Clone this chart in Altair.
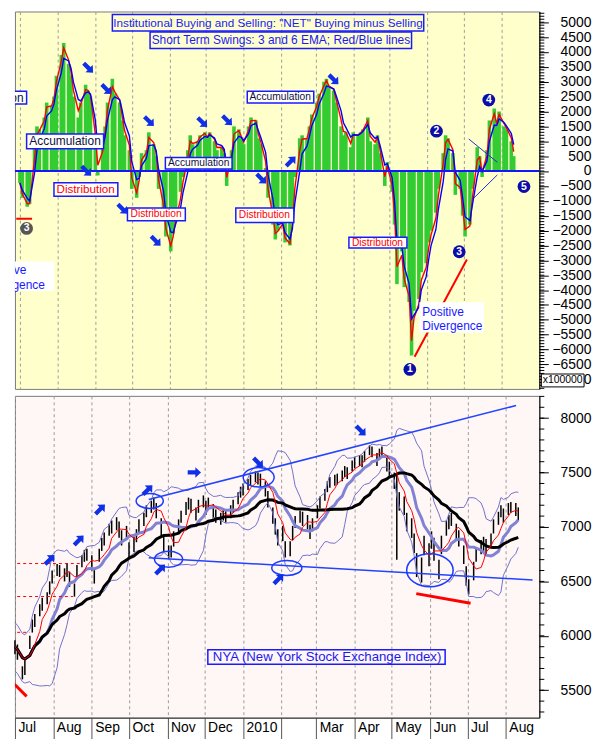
import json
import altair as alt
import pandas as pd

# ---------------- values (one sample every 2nd trading day from 2009-07-01) ----
net = [-400, -900, -1200, -1100, 900, 1500, 1400, 1800, 2300, 2200,
       2500, 3200, 3900, 4300, 3600, 3200, 2500, 1800, 2300, 2900,
       2700, 2500, 800, -150, 800, 1500, 2300, 3100, 2600, 2300,
       1700, 1200, 700, -600, -900, -200, 600, 700, 1300, 900,
       500, -600, -1400, -2200, -2700, -2100, -1500, -700, -200, 700,
       1200, 900, 1000, 1200, 1300, 1100, 1300, 1000, 700, 800,
       600, -500, 700, 1500, 1400, 1100, 900, 1500, 1800, 1700,
       1100, 900, 100, -900, -1800, -2300, -2000, -1700, -2400, -2500,
       -1600, -200, 1100, 1200, 1100, 1500, 1900, 2300, 2600, 3000,
       3100, 2800, 2700, 2300, 1500, 1200, 1300, 800, 1300, 1200,
       1300, 1400, 1800, 1000, 900, 1200, 600, -500, 300, -700,
       -1800, -3800, -2700, -3900, -4400, -6200, -4700, -4300, -3400, -3100,
       -2400, -2000, -1400, -600, 600, 1200, 1100, 600, -800, -600,
       -1500, -2200, -1800, -600, 800, 500, -200, 700, 1700, 2100,
       1500, 2000, 1500, 1400, 1000, 500]

close = [5900, 5850, 5650, 5750, 5950, 6100, 6150, 6250, 6300, 6350,
         6450, 6560, 6620, 6600, 6560, 6620, 6520, 6420, 6600, 6700,
         6740, 6760, 6680, 6550, 6750, 6850, 6900, 6980, 7000, 7040,
         6980, 6900, 6960, 6780, 6850, 6930, 7020, 7080, 7150, 7200,
         7230, 7150, 7000, 6850, 6760, 6770, 6900, 7020, 7100, 7180,
         7230, 7200, 7120, 7200, 7250, 7180, 7230, 7150, 7100, 7080,
         7120, 7100, 7150, 7200, 7280, 7330, 7350, 7400, 7440, 7480,
         7450, 7440, 7350, 7250, 7100, 7000, 6900, 6950, 6780, 6800,
         6950, 7050, 7100, 7080, 7050, 6950, 7030, 7150, 7230, 7300,
         7380, 7420, 7440, 7450, 7480, 7520, 7500, 7570, 7600, 7620,
         7610, 7660, 7720, 7700, 7620, 7680, 7700, 7580, 7530, 7420,
         7250, 7250, 7200, 7050, 7000, 6850, 6650, 6600, 6850, 6750,
         6900, 6800, 6600, 6850, 7000, 7050, 7080, 6950, 6900, 6750,
         6550, 6420, 6600, 6750, 6820, 6850, 6820, 6880, 7000, 7080,
         7150, 7100, 7170, 7180, 7160, 7120]

high = [5960, 5920, 5720, 5800, 6000, 6150, 6200, 6290, 6350, 6400,
        6500, 6600, 6660, 6650, 6620, 6670, 6590, 6480, 6650, 6740,
        6790, 6800, 6740, 6620, 6800, 6900, 6950, 7030, 7060, 7090,
        7050, 6970, 7010, 6860, 6910, 6980, 7070, 7130, 7200, 7240,
        7270, 7220, 7080, 6930, 6830, 6830, 6960, 7070, 7150, 7230,
        7270, 7260, 7180, 7250, 7290, 7240, 7270, 7210, 7160, 7130,
        7170, 7160, 7200, 7250, 7320, 7370, 7400, 7440, 7480, 7510,
        7500, 7490, 7420, 7330, 7180, 7080, 6980, 7010, 6870, 6870,
        7010, 7100, 7150, 7140, 7110, 7020, 7080, 7200, 7280, 7350,
        7420, 7460, 7480, 7490, 7520, 7560, 7550, 7610, 7640, 7660,
        7660, 7700, 7750, 7740, 7680, 7720, 7740, 7650, 7600, 7500,
        7480, 7320, 7280, 7130, 7080, 6940, 6760, 6720, 6920, 6850,
        6960, 6900, 6700, 6920, 7060, 7110, 7130, 7030, 6970, 6830,
        6640, 6520, 6680, 6810, 6880, 6910, 6890, 6940, 7070, 7140,
        7200, 7170, 7220, 7230, 7220, 7180]

low = [5830, 5780, 5600, 5640, 5880, 6030, 6080, 6180, 6230, 6290,
       6380, 6480, 6550, 6540, 6500, 6540, 6450, 6360, 6520, 6630,
       6680, 6690, 6600, 6480, 6680, 6780, 6830, 6920, 6940, 6970,
       6900, 6830, 6880, 6710, 6770, 6860, 6950, 7010, 7090, 7130,
       7160, 7080, 6920, 6780, 6710, 6720, 6820, 6950, 7040, 7110,
       7160, 7130, 7060, 7130, 7180, 7110, 7160, 7080, 7040, 7020,
       7060, 7040, 7080, 7130, 7210, 7270, 7290, 7340, 7380, 7410,
       7390, 7370, 7280, 7180, 7030, 6930, 6830, 6870, 6720, 6730,
       6880, 6990, 7040, 7010, 6980, 6890, 6960, 7080, 7170, 7240,
       7320, 7360, 7380, 7390, 7420, 7460, 7440, 7510, 7540, 7560,
       7550, 7600, 7660, 7640, 7560, 7620, 7640, 7510, 7470, 7350,
       6700, 7150, 7110, 6960, 6900, 6760, 6540, 6490, 6740, 6640,
       6800, 6690, 6520, 6750, 6920, 6980, 7010, 6880, 6820, 6660,
       6460, 6380, 6510, 6680, 6750, 6780, 6750, 6810, 6940, 7020,
       7090, 7040, 7110, 7130, 7100, 7060]

# ---------------- annotations (dates / values) ----------------
BLUE = "#1a1aff"
RED = "#ff0000"
DARK = "#101040"
NAVY = "#0c0ca8"

top_boxes = [  # x, x2, y, y2, fill, stroke
    ("2009-09-15T00:00:00", "2010-05-29T00:00:00", 5262, 4706, "transparent", BLUE),
    ("2009-10-16T00:00:00", "2010-05-19T00:00:00", 4673, 4118, "transparent", BLUE),
    ("2009-07-06T12:00:00", "2009-09-07T19:00:00", 1242, 752, "white", BLUE),
    ("2009-06-01T00:00:00", "2009-07-06T12:00:00", 2680, 2255, "white", BLUE),
    ("2009-07-29T00:00:00", "2009-09-19T12:00:00", -392, -850, "white", BLUE),
    ("2009-10-28T14:00:00", "2009-12-22T10:00:00", 458, 65, "white", BLUE),
    ("2009-09-27T10:00:00", "2009-11-14T00:00:00", -1242, -1667, "white", BLUE),
    ("2010-01-03T22:00:00", "2010-02-27T14:00:00", 2680, 2288, "white", BLUE),
    ("2009-12-25T12:00:00", "2010-02-11T05:00:00", -1242, -1732, "white", BLUE),
    ("2010-03-28T12:00:00", "2010-05-15T05:00:00", -2222, -2582, "white", BLUE),
    ("2010-05-25T10:00:00", "2010-07-17T14:00:00", -4412, -5425, "white", "transparent"),
    ("2009-06-01T00:00:00", "2009-07-29T00:00:00", -3039, -4020, "white", "transparent"),
]
top_text_center = [  # x, y, text, color, size
    ("2010-01-21T00:00:00", 4984, 'Institutional Buying and Selling: "NET" Buying minus Selling', BLUE, 11.8),
    ("2010-01-31T14:00:00", 4395, "Short Term Swings: 3 and 6 EMA; Red/Blue lines", BLUE, 12),
    ("2009-08-07T02:00:00", 997, "Accumulation", DARK, 12),
    ("2009-08-24T00:00:00", -621, "Distribution", RED, 11.7),
    ("2009-11-25T00:00:00", 261, "Accumulation", DARK, 10.3),
    ("2009-10-21T00:00:00", -1454, "Distribution", RED, 10.3),
    ("2010-01-31T00:00:00", 2484, "Accumulation", DARK, 10.3),
    ("2010-01-18T00:00:00", -1487, "Distribution", RED, 10.3),
    ("2010-04-21T00:00:00", -2402, "Distribution", RED, 10.3),
]
top_text_left = [
    ("2010-05-27T17:00:00", -4739, "Positive", BLUE, 12),
    ("2010-05-27T17:00:00", -5196, "Divergence", BLUE, 12),
    ("2009-06-02T00:00:00", -3333, "Positive", BLUE, 12),
    ("2009-06-02T00:00:00", -3846, "Divergence", BLUE, 12),
]
top_text_right = [
    ("2009-07-04T00:00:00", 2467, "Accumulation", DARK, 12),
]
top_segments = [  # x, x2, y, y2, color, width
    ("2009-06-28T00:00:00", "2009-07-11T00:00:00", -1601, -1601, RED, 2),
    ("2010-05-21T12:00:00", "2010-07-03T12:00:00", -6242, -2974, RED, 2),
    ("2010-07-05T00:00:00", "2010-07-28T12:00:00", 1078, 294, "#2a2ad0", 1),
    ("2010-07-09T00:00:00", "2010-07-28T12:00:00", -915, -131, "#2a2ad0", 1),
]
top_arrows = [  # x, y, angle
    ("2009-08-26T07:00:00", 3464, 45), ("2009-09-10T05:00:00", 2745, 45),
    ("2009-10-15T07:00:00", 1667, 45), ("2009-11-28T02:00:00", 1634, 45),
    ("2009-12-18T12:00:00", 1699, 45), ("2009-08-24T17:00:00", 0, 45),
    ("2009-09-23T10:00:00", -1275, 45), ("2009-10-20T19:00:00", -2353, 45),
    ("2010-01-15T14:00:00", -261, 45), ("2010-02-08T19:00:00", 327, 315),
    ("2010-03-16T00:00:00", 3072, 45),
]
top_numbers = [  # x, y, label, fill
    ("2010-05-17T14:00:00", -6667, "1", NAVY), ("2010-06-08T12:00:00", 1340, "2", NAVY),
    ("2010-06-27T05:00:00", -2712, "3", NAVY), ("2010-07-21T12:00:00", 2386, "4", NAVY),
    ("2010-08-19T10:00:00", -523, "5", NAVY), ("2009-07-06T12:00:00", -1928, "3", "#555555"),
]

bot_segments = [
    ("2009-10-16T22:00:00", "2010-08-09T05:00:00", 7252, 8116, "#2244ff", 1.5),
    ("2009-10-16T22:00:00", "2010-08-22T12:00:00", 6718, 6513, "#2244ff", 1.5),
    ("2010-05-20T17:00:00", "2010-07-03T12:00:00", 6388, 6299, RED, 3),
    ("2009-06-28T00:00:00", "2009-07-10T10:00:00", 5585, 5444, RED, 3),
]
bot_dashed = [
    ("2009-06-28T00:00:00", "2009-08-24T17:00:00", 6664),
    ("2009-06-28T00:00:00", "2009-08-16T22:00:00", 6361),
    ("2009-06-28T00:00:00", "2009-07-12T17:00:00", 6032),
]
bot_ellipses = [  # x, y, aspect, width in px
    ("2009-10-17T17:00:00", 7239, 0.55, 27.3),
    ("2009-11-01T22:00:00", 6704, 0.57, 28.3),
    ("2010-01-13T14:00:00", 7457, 0.63, 31.2),
    ("2010-02-05T07:00:00", 6624, 0.50, 30.3),
    ("2010-05-31T17:00:00", 6602, 0.71, 46.8),
]
bot_arrows = [
    ("2009-07-29T02:00:00", 6700, 315), ("2009-08-21T14:00:00", 6878, 315),
    ("2009-09-07T19:00:00", 7163, 315), ("2009-10-16T02:00:00", 7341, 315),
    ("2009-11-22T17:00:00", 7501, 0), ("2010-01-13T07:00:00", 7590, 45),
    ("2009-10-26T07:00:00", 6611, 315), ("2010-01-29T17:00:00", 6522, 315),
    ("2010-04-06T02:00:00", 7884, 45),
]
nya_box = ("2009-12-03T14:00:00", "2010-06-13T00:00:00", 5871, 5738)
nya_text = ("2010-03-09T19:00:00", 5804, "NYA (New York Stock Exchange Index)")

# ---------------- layout / style ----------------
FONT = "Liberation Sans"
W, H_TOP, H_BOT = 528, 380, 324
MONTH = {"interval": "month", "step": 1}
ARROW = "M-1,-0.32L0.15,-0.32L0.15,-0.78L1,0L0.15,0.78L0.15,0.32L-1,0.32Z"


def ellipse_path(a):
    k = 0.5523
    return (f"M1,0C1,{k*a:.3f} {k:.3f},{a:.3f} 0,{a:.3f}C{-k:.3f},{a:.3f} -1,{k*a:.3f} -1,0"
            f"C-1,{-k*a:.3f} {-k:.3f},{-a:.3f} 0,{-a:.3f}C{k:.3f},{-a:.3f} 1,{-k*a:.3f} 1,0Z")


def inline(records, datefields=("x",)):
    return alt.InlineData(values=records, format={"parse": {f: "date" for f in datefields}})


# main table
dates = pd.bdate_range("2009-07-01", periods=2 * len(net), freq="B")[::2]
df = pd.DataFrame({
    "x": [d.strftime("%Y-%m-%dT00:00:00") for d in dates],
    "net": net, "close": close, "hi": high, "lo": low,
})
s = pd.Series(net, dtype=float)
df["ema3"] = s.ewm(alpha=0.75, adjust=False).mean()   # 3-day EMA on 2-day samples
df["ema6"] = s.ewm(alpha=0.49, adjust=False).mean()   # 6-day EMA on 2-day samples
c = pd.Series(close, dtype=float)
df["ma10"] = c.rolling(5, min_periods=1).mean()
df["ma20"] = c.rolling(10, min_periods=1).mean()
df["ma50"] = c.rolling(25, min_periods=1).mean()
sd = c.rolling(10, min_periods=4).std().bfill()
df["bbu"] = df["ma20"] + 2 * sd
df["bbl"] = df["ma20"] - 2 * sd
main = inline(json.loads(df.to_json(orient="records")))

xs = alt.Scale(domain=[alt.DateTime(year=2009, month=7, date=1),
                       alt.DateTime(year=2010, month=8, date=28)])
ax_top = alt.Axis(tickCount=MONTH, grid=True, gridDash=[3, 3], gridColor="#9c9c9c",
                  labels=False, ticks=False, domain=False, title=None)
ax_bot = alt.Axis(tickCount=MONTH, grid=True, gridDash=[3, 3], gridColor="#9c9c9c",
                  labelExpr="month(datum.value) == 0 ? '2010' : (month(datum.value) == 1 ? '' : timeFormat(datum.value, '%b'))",
                  labelAlign="left", labelOffset=3, labelPadding=-18, labelBaseline="top",
                  tickSize=21, tickColor="#555555", domainColor="#333333",
                  labelFont=FONT, labelFontSize=14, labelColor="black",
                  labelFlush=False, labelOverlap=False, title=None)

ys_top = alt.Scale(domain=[-7320, 5360], nice=False, zero=False)
ys_bot = alt.Scale(domain=[5248, 8205], nice=False, zero=False)


def yaxis(vals):
    return alt.Axis(orient="right", values=vals, format="d", labelAlign="right", labelPadding=43,
                    tickSize=9, tickColor="black", domainColor="black", labelFont=FONT,
                    labelFontSize=14, labelColor="black", labelBaseline="middle",
                    labelOverlap=False, grid=False, title=None)


ay_top = yaxis(list(range(-7000, 5001, 500)))
ay_bot = yaxis(list(range(5500, 8001, 500)))


def XT(f):
    return alt.X(f"{f}:T", scale=xs, axis=ax_top, title=None)


def XB(f):
    return alt.X(f"{f}:T", scale=xs, axis=ax_bot, title=None)


def YT(f):
    return alt.Y(f"{f}:Q", scale=ys_top, axis=ay_top, title=None, stack=None)


def YB(f):
    return alt.Y(f"{f}:Q", scale=ys_bot, axis=ay_bot, title=None, stack=None)


def recs(rows, keys):
    return [dict(zip(keys, r)) for r in rows]


# ---------------- top panel ----------------
t_bars = alt.Chart(main).mark_bar(size=3.6, color="#33cc33").encode(
    x=XT("x"), y=YT("net"), y2=alt.Y2(datum=0))
t_red = alt.Chart(main).mark_line(color="#ff0000", strokeWidth=1.4).encode(x=XT("x"), y=YT("ema3"))
t_blue = alt.Chart(main).mark_line(color="#0000ff", strokeWidth=1.4).encode(x=XT("x"), y=YT("ema6"))
t_zero = alt.Chart(inline([{"z": 0}], ())).mark_rule(color="#1515ff", strokeWidth=2).encode(y=YT("z"))
t_minor = alt.Chart(inline([{"v": v} for v in range(-7300, 5301, 100)], ())).mark_rule(
    color="black").encode(y=YT("v"), x=alt.value(W), x2=alt.value(W + 5))
t_seg = alt.Chart(inline(recs(top_segments, ["x", "x2", "y", "y2", "c", "w"]), ("x", "x2"))).mark_rule(
    clip=True).encode(x=XT("x"), x2=alt.X2("x2"), y=YT("y"), y2=alt.Y2("y2"),
                      color=alt.Color("c:N", scale=None), strokeWidth=alt.StrokeWidth("w:Q", scale=None))
t_box = alt.Chart(inline(recs(top_boxes, ["x", "x2", "y", "y2", "f", "s"]), ("x", "x2"))).mark_rect(
    clip=True, strokeWidth=1.5).encode(x=XT("x"), x2=alt.X2("x2"), y=YT("y"), y2=alt.Y2("y2"),
                                       fill=alt.Fill("f:N", scale=None), stroke=alt.Stroke("s:N", scale=None))


def text_layer(rows, align, enc_x, enc_y):
    return alt.Chart(inline(recs(rows, ["x", "y", "t", "c", "s"]))).mark_text(
        clip=True, font=FONT, align=align, baseline="middle").encode(
        x=enc_x("x"), y=enc_y("y"), text="t:N",
        color=alt.Color("c:N", scale=None), size=alt.Size("s:Q", scale=None))


t_txt_c = text_layer(top_text_center, "center", XT, YT)
t_txt_l = text_layer(top_text_left, "left", XT, YT)
t_txt_r = text_layer(top_text_right, "right", XT, YT)
t_arrows = alt.Chart(inline(recs(top_arrows, ["x", "y", "a"]))).mark_point(
    shape=ARROW, filled=True, color="#1030e8", size=180, opacity=1, strokeWidth=0).encode(
    x=XT("x"), y=YT("y"), angle=alt.Angle("a:Q", scale=None))
num_data = inline(recs(top_numbers, ["x", "y", "t", "c"]))
t_circ = alt.Chart(num_data).mark_circle(size=165, opacity=1).encode(
    x=XT("x"), y=YT("y"), color=alt.Color("c:N", scale=None))
t_num = alt.Chart(num_data).mark_text(font=FONT, fontWeight="bold", fontSize=10.5, color="white",
                                      baseline="middle").encode(x=XT("x"), y=YT("y"), text="t:N")
one = inline([{"k": 1}], ())
t_xbox = alt.Chart(one).mark_rect(fill="white", stroke="black", strokeWidth=1).encode(
    x=alt.value(W + 2), x2=alt.value(W + 45), y=alt.value(365), y2=alt.value(378))
t_xtxt = alt.Chart(one).mark_text(text="x100000", font=FONT, fontSize=10.5, color="black",
                                  baseline="middle").encode(x=alt.value(W + 23.5), y=alt.value(371.5))

top = alt.layer(t_bars, t_red, t_blue, t_zero, t_minor, t_seg, t_box, t_txt_c, t_txt_l, t_txt_r,
                t_arrows, t_circ, t_num, t_xbox, t_xtxt).properties(
    width=W, height=H_TOP, view=alt.ViewBackground(fill="#ffffcc", stroke="#7a7a7a"))

# ---------------- bottom panel ----------------
b_bars = alt.Chart(main).mark_rule(color="black", strokeWidth=1.5).encode(
    x=XB("x"), y=YB("lo"), y2=alt.Y2("hi"))
b_bbu = alt.Chart(main).mark_line(color="#7272cc", strokeWidth=1).encode(x=XB("x"), y=YB("bbu"))
b_bbl = alt.Chart(main).mark_line(color="#7272cc", strokeWidth=1).encode(x=XB("x"), y=YB("bbl"))
b_ma20 = alt.Chart(main).mark_line(color="#8282d4", strokeWidth=3).encode(x=XB("x"), y=YB("ma20"))
b_ma50 = alt.Chart(main).mark_line(color="black", strokeWidth=3).encode(x=XB("x"), y=YB("ma50"))
b_ma10 = alt.Chart(main).mark_line(color="#ff0000", strokeWidth=1).encode(x=XB("x"), y=YB("ma10"))
b_seg = alt.Chart(inline(recs(bot_segments, ["x", "x2", "y", "y2", "c", "w"]), ("x", "x2"))).mark_rule(
    clip=True).encode(x=XB("x"), x2=alt.X2("x2"), y=YB("y"), y2=alt.Y2("y2"),
                      color=alt.Color("c:N", scale=None), strokeWidth=alt.StrokeWidth("w:Q", scale=None))
b_dash = alt.Chart(inline(recs(bot_dashed, ["x", "x2", "y"]), ("x", "x2"))).mark_rule(
    clip=True, color=RED, strokeWidth=1, strokeDash=[3, 3]).encode(x=XB("x"), x2=alt.X2("x2"), y=YB("y"))
ell_rows = [{"x": e[0], "y": e[1], "shape": ellipse_path(e[2]), "size": e[3] ** 2} for e in bot_ellipses]
b_ell = alt.Chart(inline(ell_rows)).mark_point(filled=False, color="#1a3cff", strokeWidth=1.5, opacity=1).encode(
    x=XB("x"), y=YB("y"), shape=alt.Shape("shape:N", scale=None), size=alt.Size("size:Q", scale=None))
b_arrows = alt.Chart(inline(recs(bot_arrows, ["x", "y", "a"]))).mark_point(
    shape=ARROW, filled=True, color="#1030e8", size=180, opacity=1, strokeWidth=0).encode(
    x=XB("x"), y=YB("y"), angle=alt.Angle("a:Q", scale=None))
b_nbox = alt.Chart(inline([dict(zip(["x", "x2", "y", "y2"], nya_box))], ("x", "x2"))).mark_rect(
    fill="transparent", stroke=BLUE, strokeWidth=1.5).encode(
    x=XB("x"), x2=alt.X2("x2"), y=YB("y"), y2=alt.Y2("y2"))
b_ntxt = alt.Chart(inline([dict(zip(["x", "y", "t"], nya_text))])).mark_text(
    font=FONT, fontSize=13.3, color="#1a1aee", baseline="middle").encode(x=XB("x"), y=YB("y"), text="t:N")
b_minor = alt.Chart(inline([{"v": v} for v in range(5300, 8201, 100)], ())).mark_rule(
    color="black").encode(y=YB("v"), x=alt.value(W), x2=alt.value(W + 5))

bottom = alt.layer(b_bars, b_bbu, b_bbl, b_ma20, b_ma50, b_ma10, b_seg, b_dash, b_ell, b_arrows,
                   b_nbox, b_ntxt, b_minor).properties(
    width=W, height=H_BOT, view=alt.ViewBackground(fill="#fff6f6", stroke="#7a7a7a"))

chart = alt.vconcat(top, bottom, spacing=5).properties(padding=0).configure(font=FONT)
chart.save("out.html", embed_options={"renderer": "svg", "actions": False})
